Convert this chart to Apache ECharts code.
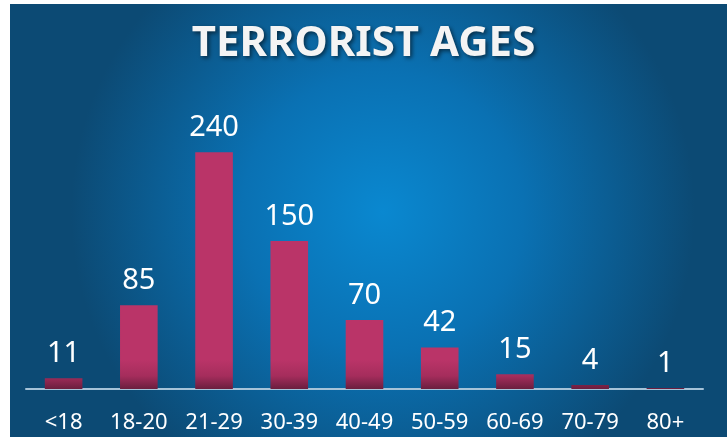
<!DOCTYPE html>
<html>
<head>
<meta charset="utf-8">
<script src="https://cdn.jsdelivr.net/npm/echarts@6/dist/echarts.min.js"></script>
<style>
  html, body { margin: 0; padding: 0; background: #fff; }
  #view { width: 727px; height: 437px; }
</style>
</head>
<body>
<div id="view"></div>
<script>
var ageGroups = ['<18', '18-20', '21-29', '30-39', '40-49', '50-59', '60-69', '70-79', '80+'];
var counts = [11, 85, 240, 150, 70, 42, 15, 4, 1];
var chartTitle = 'TERRORIST AGES';

var myChart = echarts.init(document.getElementById('view'));

var option = {
    backgroundColor: '#ffffff',
    animation: false,
    graphic: [{
        type: 'rect',
        z: -10,
        shape: { x: 10, y: 4, width: 717, height: 433 },
        style: {
            fill: new echarts.graphic.RadialGradient(0.52, 0.48, 0.72, [
                { offset: 0, color: '#0a88d0' },
                { offset: 0.45, color: '#0a71b3' },
                { offset: 1, color: '#0c4a74' }
            ])
        }
    }],
    title: {
        text: chartTitle,
        left: 'center',
        top: 18,
        textStyle: {
            color: '#f4f4f4',
            fontFamily: 'Noto Sans',
            fontWeight: 'bold',
            fontSize: 42,
            textShadowColor: 'rgba(0,0,0,0.55)',
            textShadowBlur: 4,
            textShadowOffsetX: 2,
            textShadowOffsetY: 2
        }
    },
    grid: { left: 26, right: 24, top: 93, bottom: 48 },
    xAxis: {
        type: 'category',
        data: ageGroups,
        axisLine: { lineStyle: { color: '#a6c3d8', width: 2 } },
        axisTick: { show: false },
        axisLabel: {
            color: '#ffffff',
            fontFamily: 'Noto Sans',
            fontSize: 22,
            margin: 23
        }
    },
    yAxis: {
        type: 'value',
        min: 0,
        max: 300,
        show: false,
        splitLine: { show: false }
    },
    series: [{
        type: 'bar',
        data: counts,
        barWidth: '50%',
        itemStyle: {
            color: {
                type: 'linear', global: true,
                x: 0, y: 360, x2: 0, y2: 389,
                colorStops: [
                    { offset: 0, color: '#ba3468' },
                    { offset: 0.55, color: '#a52d5c' },
                    { offset: 1, color: '#6a1e3e' }
                ]
            }
        },
        label: {
            show: true,
            position: 'top',
            distance: 10,
            color: '#ffffff',
            fontFamily: 'Noto Sans',
            fontSize: 29
        }
    }]
};

myChart.setOption(option);
</script>
</body>
</html>
